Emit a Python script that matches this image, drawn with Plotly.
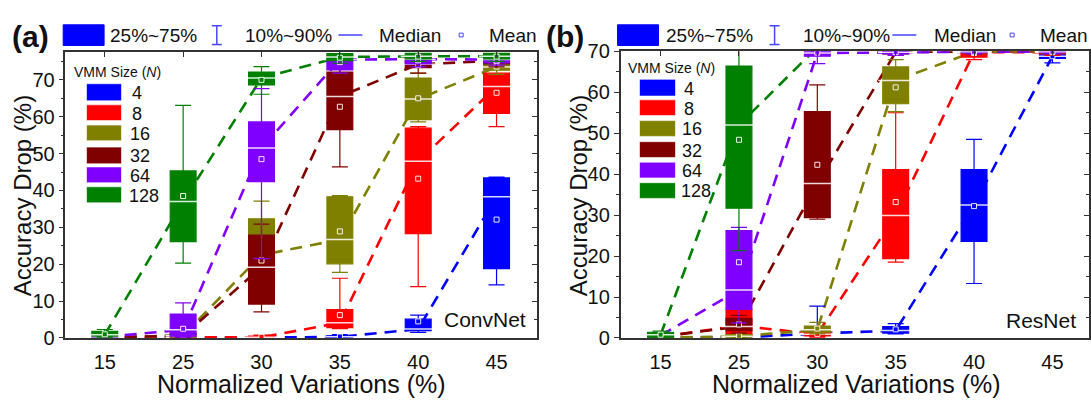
import plotly.graph_objects as go

# ---------------------------------------------------------------- data
variations = ["15", "25", "30", "35", "40", "45"]
vmm_sizes = [4, 8, 16, 32, 64, 128]
series_colors = ["#0000FF", "#FF0000", "#808000", "#800000", "#8000FF", "#008000"]

# (a) ConvNet: accuracy-drop statistics per VMM size, one value per variation
conv_p10 = {
    4: [0.0, 0.0, 0.0, 0.1, 1.5, 14.4],
    8: [0.0, 0.0, 0.0, 2.5, 13.9, 57.3],
    16: [0.0, 0.1, 10.0, 17.8, 58.6, 71.5],
    32: [0.0, 0.1, 7.1, 46.4, 71.8, 73.5],
    64: [0.0, 0.2, 21.5, 71.8, 73.5, 74.0],
    128: [0.2, 20.3, 66.1, 74.5, 75.0, 75.0],
}
conv_q1 = {
    4: [0.0, 0.0, 0.0, 0.2, 2.0, 18.8],
    8: [0.0, 0.05, 0.1, 2.8, 28.3, 60.9],
    16: [0.0, 0.3, 14.0, 20.1, 59.2, 72.6],
    32: [0.1, 0.3, 9.2, 56.5, 73.3, 74.3],
    64: [0.1, 0.5, 42.4, 72.7, 74.3, 74.6],
    128: [0.5, 26.1, 68.6, 75.2, 75.7, 75.7],
}
conv_med = {
    4: [0.05, 0.05, 0.1, 0.3, 2.4, 38.3],
    8: [0.1, 0.1, 0.2, 4.1, 47.9, 68.2],
    16: [0.1, 0.7, 22.5, 26.7, 64.8, 73.5],
    32: [0.2, 0.6, 19.2, 65.5, 74.2, 75.2],
    64: [0.3, 2.2, 51.5, 75.5, 75.6, 75.5],
    128: [0.9, 37.0, 70.5, 76.2, 76.4, 76.4],
}
conv_q3 = {
    4: [0.1, 0.1, 0.2, 0.6, 5.1, 43.4],
    8: [0.2, 0.3, 0.5, 7.7, 56.9, 71.8],
    16: [0.2, 1.2, 32.3, 38.3, 70.5, 74.6],
    32: [0.3, 1.1, 27.9, 72.1, 75.0, 75.8],
    64: [0.5, 6.5, 58.6, 76.5, 76.2, 76.0],
    128: [1.8, 45.3, 72.1, 77.1, 77.2, 77.2],
}
conv_p90 = {
    4: [0.2, 0.2, 0.3, 0.9, 6.2, 43.6],
    8: [0.3, 0.5, 0.8, 16.2, 57.3, 72.8],
    16: [0.3, 1.8, 37.1, 38.6, 71.8, 75.2],
    32: [0.5, 1.5, 30.9, 73.0, 75.8, 76.3],
    64: [0.8, 9.5, 67.6, 77.0, 76.8, 76.5],
    128: [2.3, 63.1, 73.6, 78.0, 78.0, 78.0],
}
conv_mean = {
    4: [0.1, 0.1, 0.15, 0.4, 4.5, 32.1],
    8: [0.1, 0.2, 0.3, 6.2, 43.2, 66.5],
    16: [0.1, 0.8, 22.5, 28.9, 65.0, 73.6],
    32: [0.2, 0.7, 21.0, 62.7, 74.0, 75.0],
    64: [0.3, 2.5, 48.5, 74.8, 75.3, 75.2],
    128: [1.0, 38.5, 70.0, 76.0, 76.3, 76.3],
}

# (b) ResNet
res_p10 = {
    4: [0.0, 0.0, 0.5, 1.0, 13.3, 67.2],
    8: [0.0, 0.3, 0.2, 18.5, 68.0, 69.0],
    16: [0.0, 0.1, 1.0, 55.3, 69.3, 69.3],
    32: [0.0, 1.2, 29.0, 69.0, 69.4, 69.4],
    64: [0.1, 3.7, 67.0, 69.0, 69.4, 69.4],
    128: [0.1, 21.3, 70.3, 70.3, 70.3, 70.3],
}
res_q1 = {
    4: [0.05, 0.05, 0.8, 1.2, 23.6, 68.3],
    8: [0.1, 0.8, 0.5, 19.4, 68.6, 69.4],
    16: [0.05, 0.2, 1.4, 57.2, 69.6, 69.6],
    32: [0.1, 1.8, 29.4, 69.4, 69.7, 69.7],
    64: [0.3, 7.0, 68.8, 69.4, 69.7, 69.7],
    128: [0.2, 31.7, 70.6, 70.6, 70.6, 70.6],
}
res_med = {
    4: [0.1, 0.1, 1.1, 1.8, 32.5, 68.8],
    8: [0.3, 3.0, 0.9, 29.9, 69.8, 69.8],
    16: [0.1, 0.4, 2.0, 62.9, 69.9, 70.0],
    32: [0.3, 2.8, 37.7, 69.8, 70.0, 70.0],
    64: [0.6, 11.7, 69.6, 69.8, 69.9, 69.9],
    128: [0.8, 52.0, 71.0, 71.0, 71.0, 71.0],
}
res_q3 = {
    4: [0.2, 0.2, 1.6, 2.8, 41.1, 69.5],
    8: [0.6, 7.0, 1.5, 41.1, 70.6, 70.4],
    16: [0.2, 0.8, 2.9, 66.2, 70.5, 70.6],
    32: [0.5, 4.8, 55.3, 70.5, 70.6, 70.6],
    64: [1.0, 26.2, 70.5, 70.5, 70.5, 70.5],
    128: [1.4, 66.4, 71.5, 71.5, 71.5, 71.5],
}
res_p90 = {
    4: [0.3, 0.4, 7.8, 3.5, 48.5, 70.0],
    8: [1.0, 7.5, 2.2, 55.0, 71.0, 71.0],
    16: [0.3, 1.0, 3.8, 68.0, 71.0, 71.0],
    32: [0.8, 5.5, 61.8, 71.0, 71.0, 71.0],
    64: [1.4, 27.0, 71.0, 71.0, 71.0, 71.0],
    128: [1.7, 72.0, 72.0, 72.0, 72.0, 72.0],
}
res_mean = {
    4: [0.1, 0.15, 1.2, 2.1, 32.2, 68.8],
    8: [0.3, 3.2, 1.0, 33.2, 69.6, 69.8],
    16: [0.1, 0.5, 2.3, 61.2, 69.8, 69.9],
    32: [0.3, 3.3, 42.3, 69.7, 69.9, 69.9],
    64: [0.6, 18.5, 69.7, 69.8, 69.9, 69.9],
    128: [0.8, 48.4, 71.0, 71.0, 71.0, 71.0],
}

# ---------------------------------------------------------------- layout helpers
W, H = 1091, 400
FONT = "Liberation Sans, Arial, sans-serif"
INK = "#111111"
FRAME = "#333333"
KEY_BLUE = "#4646FF"


def px(x):
    return x / W


def py(y):
    return 1 - y / H


positions = list(range(len(variations)))

panels = [
    dict(name="ConvNet", x="x", y="y", xdom=[px(65.5), px(537.5)], xrng=[-0.503, 5.51],
         ydom=[py(346), py(43)], yrng=[0, 77.65],
         stats=(conv_p10, conv_q1, conv_med, conv_q3, conv_p90, conv_mean)),
    dict(name="ResNet", x="x2", y="y2", xdom=[px(621.7), 1.0], xrng=[-0.511, 5.467],
         ydom=[py(346), py(42.7)], yrng=[0, 70],
         stats=(res_p10, res_q1, res_med, res_q3, res_p90, res_mean)),
]

fig = go.Figure()
layout = {}
axis_counter = 3
BOX_W = 0.33

for p_idx, pan in enumerate(panels):
    p10, q1, med, q3, p90, mean = pan["stats"]
    xb, yb = pan["x"], pan["y"]
    xkey = "xaxis" if xb == "x" else "xaxis" + xb[1:]
    ykey = "yaxis" if yb == "y" else "yaxis" + yb[1:]

    # base axes: frame, labels
    layout[xkey] = dict(domain=pan["xdom"], range=pan["xrng"], anchor=yb,
                        tickvals=positions, ticktext=variations, ticks="",
                        ticklabelstandoff=5,
                        showline=True, mirror=True, linecolor=FRAME, linewidth=1.5,
                        showgrid=False, zeroline=False,
                        tickfont=dict(family=FONT, size=20, color=INK))
    layout[ykey] = dict(domain=pan["ydom"], range=pan["yrng"], anchor=xb,
                        tick0=0, dtick=10, ticks="outside", ticklen=5, tickwidth=1.2,
                        tickcolor=FRAME,
                        minor=dict(dtick=5, ticks="outside", ticklen=3, tickwidth=1.2,
                                   tickcolor=FRAME),
                        showline=True, mirror=True, linecolor=FRAME, linewidth=1.5,
                        showgrid=False, zeroline=False,
                        tickfont=dict(family=FONT, size=20, color=INK))

    # dashed median-to-median trend lines sit on the base subplot (beneath boxes)
    for n, col in zip(vmm_sizes, series_colors):
        fig.add_trace(go.Scatter(x=positions, y=med[n], mode="lines",
                                 line=dict(color=col, width=2.6, dash="12px,8px"),
                                 xaxis=xb, yaxis=yb, hoverinfo="skip"))

    # each VMM size gets its own overlaid subplot so later sizes cover earlier ones
    for k, (n, col) in enumerate(zip(vmm_sizes, series_colors)):
        xa, ya = "x%d" % axis_counter, "y%d" % axis_counter
        last = k == len(vmm_sizes) - 1
        layout["xaxis%d" % axis_counter] = dict(
            overlaying=xb, range=pan["xrng"], anchor=ya, visible=last,
            side="top", tickvals=positions, ticks="inside", ticklen=5, tickwidth=1.2,
            tickcolor=FRAME, showticklabels=False, showline=False, showgrid=False,
            zeroline=False)
        layout["yaxis%d" % axis_counter] = dict(
            overlaying=yb, range=pan["yrng"], anchor=xa, visible=last,
            side="right", tick0=0, dtick=10, ticks="inside", ticklen=5, tickwidth=1.2,
            tickcolor=FRAME,
            minor=dict(dtick=5, ticks="inside", ticklen=3, tickwidth=1.2, tickcolor=FRAME),
            showticklabels=False, showline=False, showgrid=False, zeroline=False)
        axis_counter += 1

        fig.add_trace(go.Box(x=positions, q1=q1[n], median=med[n], q3=q3[n],
                             lowerfence=p10[n], upperfence=p90[n],
                             width=BOX_W, whiskerwidth=0.62, boxpoints=False,
                             fillcolor=col, line=dict(color=col, width=1.2),
                             xaxis=xa, yaxis=ya, hoverinfo="skip"))
        fig.add_trace(go.Scatter(x=positions, y=med[n], mode="markers",
                                 marker=dict(symbol="line-ew", size=25,
                                             line=dict(color="rgba(255,255,255,0.85)", width=1.5)),
                                 xaxis=xa, yaxis=ya, hoverinfo="skip"))
        fig.add_trace(go.Scatter(x=positions, y=mean[n], mode="markers",
                                 marker=dict(symbol="square", size=5, color=col,
                                             line=dict(color="rgba(255,255,255,0.9)", width=1)),
                                 xaxis=xa, yaxis=ya, hoverinfo="skip"))

shapes = []
annotations = []


def text(x, y, s, size, anchor="left", **kw):
    annotations.append(dict(x=px(x), y=py(y), xref="paper", yref="paper", text=s,
                            showarrow=False, xanchor=anchor, yanchor="middle",
                            font=dict(family=FONT, size=size, color=INK), **kw))


def rect(x0, y0, x1, y1, fill, outline=None):
    shapes.append(dict(type="rect", xref="paper", yref="paper",
                       x0=px(x0), x1=px(x1), y0=py(y1), y1=py(y0),
                       fillcolor=fill, line=dict(color=outline or fill, width=1)))


def seg(x0, y0, x1, y1, color, width=1.5):
    shapes.append(dict(type="line", xref="paper", yref="paper",
                       x0=px(x0), x1=px(x1), y0=py(y0), y1=py(y1),
                       line=dict(color=color, width=width)))


# statistics key above each panel
key_layout = [
    dict(rect=63.3, t1=108.4, whisk=217.2, t2=243.3, med=339, t3=378, mean=462, t4=488),
    dict(rect=618.7, t1=665, whisk=776, t2=802, med=894, t3=933.6, mean=1014, t4=1040),
]
for k in key_layout:
    rect(k["rect"], 14.6, k["rect"] + 41, 36.5, "#0000FF")
    text(k["t1"], 26, "25%~75%", 19)
    seg(k["whisk"], 15.6, k["whisk"], 35.5, KEY_BLUE)
    seg(k["whisk"] - 5, 15.6, k["whisk"] + 5, 15.6, KEY_BLUE)
    seg(k["whisk"] - 5, 35.5, k["whisk"] + 5, 35.5, KEY_BLUE)
    text(k["t2"], 26, "10%~90%", 19)
    seg(k["med"], 25.4, k["med"] + 24, 25.4, KEY_BLUE)
    text(k["t3"], 26, "Median", 19)
    rect(k["mean"] - 2, 23.4, k["mean"] + 2, 27.4, "white", KEY_BLUE)
    text(k["t4"], 26, "Mean", 19)

# panel letters
annotations.append(dict(x=px(31), y=py(27), xref="paper", yref="paper", text="<b>(a)</b>",
                        showarrow=False, xanchor="center", yanchor="middle",
                        font=dict(family=FONT, size=30, color=INK)))
annotations.append(dict(x=px(566), y=py(27), xref="paper", yref="paper", text="<b>(b)</b>",
                        showarrow=False, xanchor="center", yanchor="middle",
                        font=dict(family=FONT, size=30, color=INK)))

# VMM-size legends inside each panel
size_keys = [
    dict(title=(71.7, 65), x0=86.7, x1=121.7, lab=130,
         rows=[(77, 95), (99.3, 116), (120.7, 137.3), (144, 161.7), (165, 181.7), (186, 203)]),
    dict(title=(626.7, 60.7), x0=640.7, x1=676.7, lab=683,
         rows=[(72.3, 90), (94, 110.7), (116, 132.7), (138.3, 155), (160, 176.7), (181.7, 198.3)]),
]
for sk in size_keys:
    text(sk["title"][0], sk["title"][1], "VMM Size (<i>N</i>)", 14)
    for n, col, (r0, r1) in zip(vmm_sizes, series_colors, sk["rows"]):
        rect(sk["x0"], r0, sk["x1"], r1, col, "rgba(255,255,255,0.6)")
        lx = sk["lab"] - (3 if n >= 100 else (2 if n >= 10 else 0))
        text(lx, (r0 + r1) / 2 + 1, str(n), 18)

# network names
text(442.7, 326, "ConvNet", 21)
text(1006, 327.7, "ResNet", 21)

# axis titles
for cx in (22, 579):
    annotations.append(dict(x=px(cx), y=py(195), xref="paper", yref="paper",
                            text="Accuracy Drop (%)", textangle=-90, showarrow=False,
                            xanchor="center", yanchor="middle",
                            font=dict(family=FONT, size=24, color=INK)))
for cx in (302, 858):
    annotations.append(dict(x=px(cx), y=py(395), xref="paper", yref="paper",
                            text="Normalized Variations (%)", showarrow=False,
                            xanchor="center", yanchor="middle",
                            font=dict(family=FONT, size=25, color=INK)))

layout.update(dict(width=W, height=H, margin=dict(l=0, r=0, t=0, b=0),
                   paper_bgcolor="white", plot_bgcolor="white", showlegend=False,
                   boxmode="overlay", shapes=shapes, annotations=annotations))
fig.update_layout(**layout)
fig.write_html("out.html")
